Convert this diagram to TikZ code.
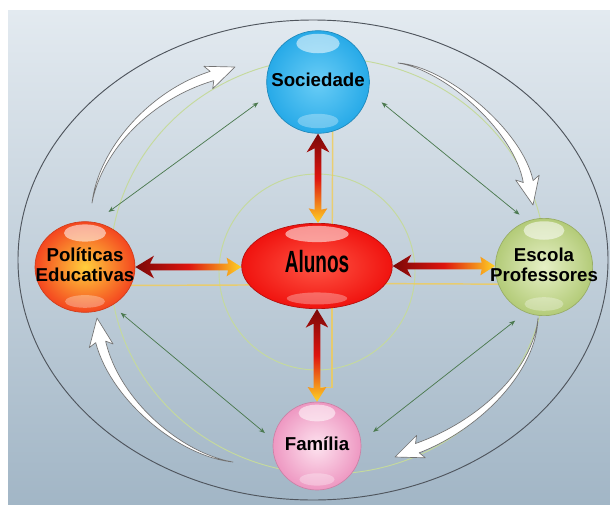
\documentclass[tikz,border=0pt]{standalone}
\usepackage{fontspec}
\setmainfont{Liberation Sans}
\newfontfamily\estreita[FakeStretch=0.62]{Liberation Sans}
\usetikzlibrary{shapes.geometric, arrows.meta, calc, backgrounds}

\definecolor{fundotopo}{HTML}{E3EAF0}
\definecolor{fundobase}{HTML}{A2B6C6}
\definecolor{contorno}{HTML}{4F555D}
\definecolor{verdeclaro}{HTML}{C5DA9C}
\definecolor{verdefio}{HTML}{4C7A50}
\definecolor{amarelofio}{HTML}{F2CC55}
\definecolor{setaescura}{HTML}{7A0808}
\definecolor{setavermelha}{HTML}{DE150F}
\definecolor{setaamarela}{HTML}{FFD324}
\definecolor{azul}{HTML}{27AAE8}
\definecolor{azulclaro}{HTML}{6ACDF6}
\definecolor{vermelho}{HTML}{F0130F}
\definecolor{vermelhoclaro}{HTML}{FF5544}
\definecolor{laranja}{HTML}{F4461F}
\definecolor{laranjaclaro}{HTML}{FFCF3C}
\definecolor{verde}{HTML}{B3CB78}
\definecolor{verdepalido}{HTML}{E6F0C6}
\definecolor{rosa}{HTML}{EE98C2}
\definecolor{rosaclaro}{HTML}{FDE3EF}

\newcommand{\centro}[1]{\makebox[0pt]{\begin{tabular}{@{}c@{}}#1\end{tabular}}}

% gradient double arrows, dark tip first
\newcommand{\setaH}[2]{%
  \shade[left color=setaescura, right color=setaamarela, middle color=setavermelha]
    let \p1=(#1), \p2=(#2) in
    (\x1,\y1) -- (\x1+14pt,\y1+8.5pt) -- (\x1+11pt,\y1+2.6pt) -- (\x2-10pt,\y1+2.6pt)
    -- (\x2-11pt,\y1+7pt) -- (\x2,\y1) -- (\x2-11pt,\y1-7pt) -- (\x2-10pt,\y1-2.6pt)
    -- (\x1+11pt,\y1-2.6pt) -- (\x1+14pt,\y1-8.5pt) -- cycle;}
\newcommand{\setaV}[2]{%
  \shade[top color=setaescura, bottom color=setaamarela, middle color=setavermelha]
    let \p1=(#1), \p2=(#2) in
    (\x1,\y1) -- (\x1+8.5pt,\y1-14pt) -- (\x1+2.6pt,\y1-11pt) -- (\x1+2.6pt,\y2+10pt)
    -- (\x1+7pt,\y2+11pt) -- (\x1,\y2) -- (\x1-7pt,\y2+11pt) -- (\x1-2.6pt,\y2+10pt)
    -- (\x1-2.6pt,\y1-11pt) -- (\x1-8.5pt,\y1-14pt) -- cycle;}

\tikzset{
  brilho/.style={path picture={
    \fill[white, opacity=.55] let \p1=(path picture bounding box.north east),
      \p2=(path picture bounding box.center) in
      (\x2,{\y2+0.75*(\y1-\y2)}) ellipse [x radius={0.42*(\x1-\x2)}, y radius={0.19*(\y1-\y2)}];
    \fill[white, opacity=.3] let \p1=(path picture bounding box.north east),
      \p2=(path picture bounding box.center) in
      (\x2,{\y2-0.76*(\y1-\y2)}) ellipse [x radius={0.4*(\x1-\x2)}, y radius={0.14*(\y1-\y2)}];
  }},
  bola/.style n args={3}{circle, draw=#1, line width=.5pt, inner color=#2, outer color=#3,
    inner sep=0pt, brilho, font=\bfseries\fontsize{14}{15}\selectfont},
  ligacao/.style={draw=verdefio, line width=.55pt,
    {Stealth[length=4.5pt,width=3.5pt]}-{Stealth[length=4.5pt,width=3.5pt]}},
  setacurva/.style={fill=white, draw=black!55, line width=.5pt, line join=round},
  fioamarelo/.style={draw=amarelofio, line width=1.1pt, opacity=.8},
}

\begin{document}
\begin{tikzpicture}[x=0.75pt, y=-0.75pt]
\useasboundingbox (0,0) rectangle (610,504);

% nodes
\node[bola={azul!80!black}{azulclaro}{azul}, minimum size=77pt] (soc) at (318,82) {\centro{Sociedade}};
\node[bola={vermelho!75!black}{vermelhoclaro}{vermelho}, ellipse, minimum width=113pt, minimum height=64pt,
  font=\estreita\bfseries\fontsize{23}{24}\selectfont] (alu) at (317,266) {\centro{Alunos}};
\node[bola={laranja!85!black}{laranjaclaro}{laranja}, ellipse, minimum width=75pt, minimum height=68pt]
  (pol) at (85,267) {\centro{Políticas\\Educativas}};
\node[bola={verde!85!black}{verdepalido}{verde}, minimum size=73pt] (esc) at (544,267) {\centro{Escola\\Professores}};
\node[bola={rosa!85!black}{rosaclaro}{rosa}, minimum size=66pt] (fam) at (317,446) {\centro{Família}};

\begin{scope}[on background layer]
  \fill[white] (0,0) rectangle (610,504);
  \shade[top color=fundotopo, bottom color=fundobase] (8,10) rectangle (610,504);
  \draw[verdeclaro, line width=.7pt] (328,266) ellipse [x radius=218, y radius=208];
  \draw[verdeclaro, line width=.7pt] (317,272) circle [radius=98];
  \draw[contorno, line width=.7pt] (313,260) ellipse [x radius=295, y radius=240];
  % pale lines beside the thick arrows
  \draw[fioamarelo] ([xshift=11.25pt]soc.center) -- ([xshift=11.25pt]alu.center);
  \draw[fioamarelo] ([xshift=11.25pt]alu.center) |- ([yshift=10.5pt]fam.north);
  \draw[fioamarelo] ([yshift=-14pt]pol.center) -- ([yshift=-14pt]alu.center);
  \draw[fioamarelo] ([yshift=-13pt]alu.center) -- ([yshift=-13pt]esc.center);
  % white curved arrows
  \draw[setacurva] (92,203) .. controls (98,150) and (148.5,91) .. (210.2,71.4) -- (203.9,66.3) -- (235,67)
    -- (212.7,88.7) -- (213.8,80.6) .. controls (151.5,99) and (102,150) .. (92,203) -- cycle;
  \draw[setacurva] (398,63) .. controls (445.3,66) and (521.9,129.2) .. (533.1,180.5) -- (539.2,175.2) -- (533,205)
    -- (515.6,180) -- (523.3,182.5) .. controls (514.1,130.8) and (444.7,70) .. (398,63) -- cycle;
  \draw[setacurva] (538,318) .. controls (537,370) and (481.5,428.7) .. (419.2,452.8) -- (425.4,457.8) -- (395,457)
    -- (416.6,435.4) -- (415.5,443.5) .. controls (478.5,421.3) and (533,370) .. (538,318) -- cycle;
  \draw[setacurva] (233,462) .. controls (179.7,457) and (111,400.6) .. (95.7,342.6) -- (89.3,347.6) -- (97,318)
    -- (113.1,344) -- (105.6,341.1) .. controls (119,399.4) and (180.3,453) .. (233,462) -- cycle;
\end{scope}

% thick arrows to and from Alunos
\setaV{soc.south}{alu.north}
\setaV{alu.south}{fam.north}
\setaH{pol.east}{alu.west}
\setaH{alu.east}{esc.west}

% thin links between the outer nodes
\draw[ligacao, shorten <=13pt, shorten >=9pt] (pol.78) -- (soc.195);
\draw[ligacao, shorten <=12.5pt, shorten >=7.5pt] (soc.349) -- (esc.110);
\draw[ligacao, shorten <=8.5pt, shorten >=8pt] (pol.305) -- (fam.172);
\draw[ligacao, shorten <=10pt, shorten >=11.5pt] (esc.248) -- (fam.6);
\end{tikzpicture}
\end{document}
